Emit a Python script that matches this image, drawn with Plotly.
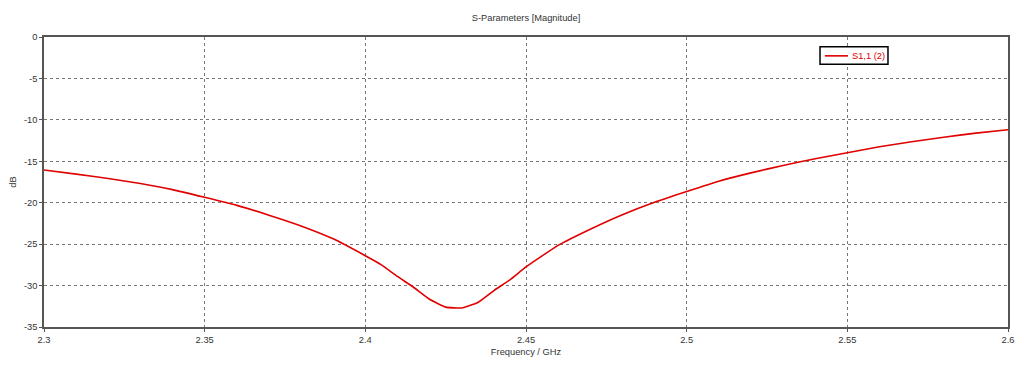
import plotly.graph_objects as go

freq_ghz = [2.30, 2.31, 2.32, 2.33, 2.34, 2.35, 2.36, 2.37, 2.38, 2.39,
            2.40, 2.405, 2.41, 2.415, 2.42, 2.425, 2.43, 2.435, 2.44, 2.445,
            2.45, 2.46, 2.47, 2.48, 2.49, 2.50, 2.51, 2.52, 2.53, 2.54,
            2.55, 2.56, 2.57, 2.58, 2.59, 2.60]
s11_db = [-16.05, -16.55, -17.08, -17.69, -18.42, -19.35, -20.32, -21.5, -22.8, -24.36,
          -26.4, -27.5, -28.9, -30.2, -31.65, -32.6, -32.7, -32.05, -30.6, -29.3,
          -27.75, -25.15, -23.2, -21.45, -19.95, -18.65, -17.4, -16.4, -15.5, -14.7,
          -13.96, -13.25, -12.65, -12.1, -11.6, -11.2]
series_name = "S1,1 (2)"

x_ticks = [2.30, 2.35, 2.40, 2.45, 2.50, 2.55, 2.60]
x_tick_labels = ["2.3", "2.35", "2.4", "2.45", "2.5", "2.55", "2.6"]
y_ticks = [0, -5, -10, -15, -20, -25, -30, -35]
y_tick_labels = ["0", "-5", "-10", "-15", "-20", "-25", "-30", "-35"]

font_family = "Liberation Sans, Arial, sans-serif"
font_size = 9.3
text_color = "#333333"
line_color = "#e00000"

fig = go.Figure()
fig.add_trace(go.Scatter(
    x=freq_ghz, y=s11_db, mode="lines", name=series_name,
    line=dict(color=line_color, width=1.6, shape="spline", smoothing=0.4),
    showlegend=False,
))

axis_common = dict(
    showline=True, linecolor="#555555", linewidth=1.5, mirror=True,
    showgrid=True, gridcolor="#777777", gridwidth=1, griddash="dot",
    zeroline=False, ticks="outside", ticklen=3, tickcolor="#555555",
    tickfont=dict(family=font_family, size=font_size, color=text_color),
    automargin=False,
)

# page body has an 8px margin, so the figure is sized to fill the rest of the window
fig.update_layout(
    width=1016, height=358,
    paper_bgcolor="white", plot_bgcolor="white",
    margin=dict(l=36, r=16, t=29, b=39, pad=0),
    title=dict(text="S-Parameters [Magnitude]", x=0.5, xref="paper", y=0.972, yref="container",
               xanchor="center", yanchor="middle",
               font=dict(family=font_family, size=font_size, color=text_color)),
    xaxis=dict(range=[2.3, 2.6], tickvals=x_ticks, ticktext=x_tick_labels,
               title=dict(text="Frequency / GHz", standoff=5,
                          font=dict(family=font_family, size=font_size, color=text_color)),
               **axis_common),
    yaxis=dict(range=[-35, 0], tickvals=y_ticks, ticktext=y_tick_labels,
               title=dict(text="dB", standoff=10,
                          font=dict(family=font_family, size=font_size, color=text_color)),
               **axis_common),
    showlegend=False,
)

# legend box (drawn in paper coordinates)
fig.add_shape(type="rect", xref="paper", yref="paper", x0=0.805, x1=0.8755, y0=0.906, y1=0.966,
              line=dict(color="#000000", width=1.5), fillcolor="white", layer="above")
fig.add_shape(type="line", xref="paper", yref="paper", x0=0.810, x1=0.834, y0=0.935, y1=0.935,
              line=dict(color=line_color, width=1.6), layer="above")
fig.add_annotation(text=series_name, xref="paper", yref="paper", x=0.8365, y=0.936,
                   xanchor="left", yanchor="middle", showarrow=False,
                   font=dict(family=font_family, size=font_size, color=line_color))

fig.write_html("out.html")
